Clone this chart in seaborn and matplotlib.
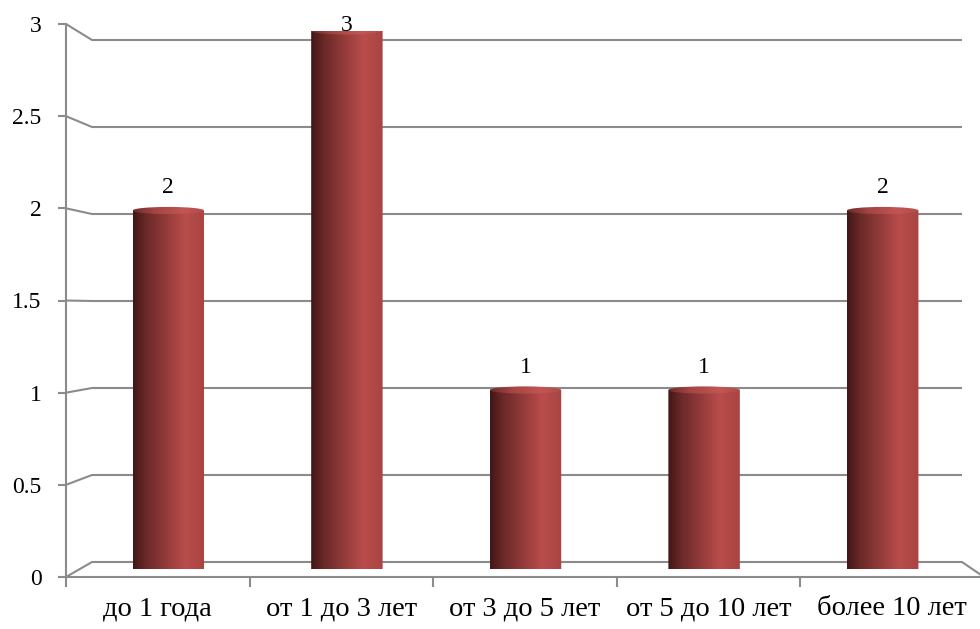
import numpy as np
import pandas as pd
import matplotlib
matplotlib.use("Agg")
import matplotlib.pyplot as plt
from matplotlib.patches import ConnectionPatch, Ellipse, PathPatch
from matplotlib.path import Path
from matplotlib.colors import LinearSegmentedColormap
import seaborn as sns

# --- data -------------------------------------------------------------
categories = ["до 1 года", "от 1 до 3 лет", "от 3 до 5 лет", "от 5 до 10 лет", "более 10 лет"]
counts = [2, 3, 1, 1, 2]
y_ticks = [0, 0.5, 1, 1.5, 2, 2.5, 3]
y_tick_labels = ["0", "0.5", "1", "1.5", "2", "2.5", "3"]

df = pd.DataFrame({"category": categories, "count": counts})

# --- style ------------------------------------------------------------
sns.set_theme(style="white")
plt.rcParams["font.family"] = ["Liberation Serif", "DejaVu Serif"]
GRID = "#8b8b8b"
FS_Y = 17
FS_X = 20.5
FS_VAL = 17

W, H = 980, 629
fig = plt.figure(figsize=(W / 100, H / 100), dpi=100)
fig.patch.set_facecolor("white")


def px_axes(left, right, top, bottom):
    """Axes placed by pixel box (origin top-left)."""
    ax = fig.add_axes([left / W, 1 - bottom / H, (right - left) / W, (bottom - top) / H])
    ax.set_xlim(-0.5, len(categories) - 0.5)
    ax.set_ylim(0, 3)
    ax.patch.set_visible(False)
    for s in ax.spines.values():
        s.set_visible(False)
    return ax


# three planes of the pseudo-3D box: back wall, bar plane, front edge
ax_back = px_axes(92, 962, 40, 562)
ax_mid = px_axes(79, 972, 31, 569.5)
ax_front = px_axes(66, 984, 24, 577)

# --- back wall gridlines ---------------------------------------------
ax_back.hlines(y_ticks, -0.5, len(categories) - 0.5, color=GRID, lw=1.5, clip_on=False)
ax_back.set_xticks([])
ax_back.set_yticks([])

# side wall connectors (front axis -> back wall)
for v in y_ticks:
    con = ConnectionPatch(xyA=(-0.5, v), coordsA=ax_front.transData,
                          xyB=(-0.5, v), coordsB=ax_back.transData,
                          color=GRID, lw=1.5)
    fig.add_artist(con)
# right edge of the floor
con = ConnectionPatch(xyA=(len(categories) - 0.5, 0), coordsA=ax_front.transData,
                      xyB=(len(categories) - 0.5, 0), coordsB=ax_back.transData,
                      color=GRID, lw=1.5)
fig.add_artist(con)

# --- bars (cylinders) ------------------------------------------------
sns.barplot(data=df, x="category", y="count", ax=ax_mid, width=0.4,
            color="#a94442", saturation=1)
ax_mid.set_xlabel("")
ax_mid.set_ylabel("")
ax_mid.set_xticks([])
ax_mid.set_yticks([])

body_cmap = LinearSegmentedColormap.from_list(
    "body", [(0, "#411717"), (0.18, "#6a2928"), (0.5, "#983e3d"),
             (0.73, "#b94d4b"), (1.0, "#a84442")])
cap_cmap = LinearSegmentedColormap.from_list(
    "cap", [(0, "#6e2b2b"), (0.3, "#a34543"), (0.72, "#c35654"), (1.0, "#b14a48")])
grad = np.linspace(0, 1, 256).reshape(1, -1)
eh = 0.02  # half-height of the end ellipses, in data units

for bar, v in zip(ax_mid.patches, counts):
    x0 = bar.get_x()
    w = bar.get_width()
    h = bar.get_height()
    x1 = x0 + w
    cx = x0 + w / 2
    bar.set_visible(False)

    t = np.linspace(np.pi, 2 * np.pi, 60)
    bottom_arc = np.column_stack([cx + w / 2 * np.cos(t), eh * np.sin(t)])
    verts = np.vstack([[x0, h], bottom_arc, [x1, h], [x0, h]])
    codes = [Path.MOVETO] + [Path.LINETO] * (len(verts) - 2) + [Path.CLOSEPOLY]
    body = PathPatch(Path(verts, codes), facecolor="none", edgecolor="none")
    ax_mid.add_patch(body)
    im = ax_mid.imshow(grad, cmap=body_cmap, extent=[x0, x1, -eh, h],
                       aspect="auto", origin="lower", interpolation="bicubic", zorder=2)
    im.set_clip_path(body)

    cap = Ellipse((cx, h), w, 2 * eh, facecolor="none", edgecolor="none")
    ax_mid.add_patch(cap)
    im2 = ax_mid.imshow(grad, cmap=cap_cmap, extent=[x0, x1, h - eh, h + eh],
                        aspect="auto", origin="lower", interpolation="bicubic", zorder=3)
    im2.set_clip_path(cap)

    # value label above the bar, kept inside the plot area
    ax_mid.text(cx, min(v + 0.095, 3.0), f"{v:g}", ha="center", va="baseline",
                fontsize=FS_VAL, color="black", zorder=5, clip_on=False)

ax_mid.set_xlim(-0.5, len(categories) - 0.5)
ax_mid.set_ylim(0, 3)

# --- front edge: axes, ticks, labels ---------------------------------
for side in ("left", "bottom"):
    ax_front.spines[side].set_visible(True)
    ax_front.spines[side].set_color(GRID)
    ax_front.spines[side].set_linewidth(1.5)

ax_front.set_yticks(y_ticks, y_tick_labels)
ax_front.set_xticks(range(len(categories)), categories)
ax_front.set_xticks(np.arange(-0.5, len(categories), 1), minor=True)
ax_front.tick_params(axis="y", which="major", left=True, length=6, width=1.5,
                     color=GRID, pad=11.5, labelsize=FS_Y, labelcolor="black")
ax_front.tick_params(axis="x", which="major", bottom=True, length=0, pad=14,
                     labelsize=FS_X, labelcolor="black")
ax_front.tick_params(axis="x", which="minor", bottom=True, length=7, width=1.5,
                     color=GRID)

fig.savefig("out.png", dpi=100, facecolor="white")
